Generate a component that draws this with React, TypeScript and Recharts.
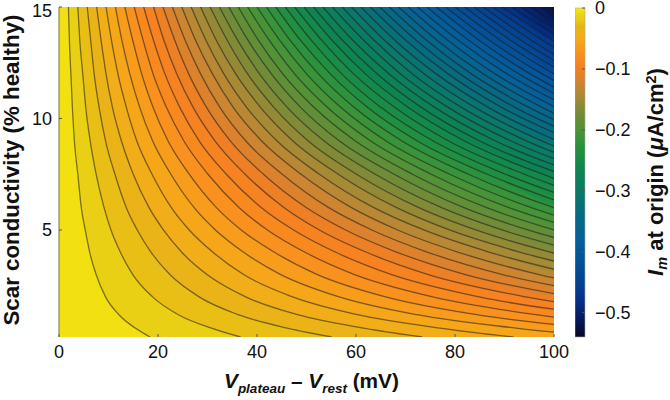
import React from 'react';
import { Area, Bar, BarChart, ComposedChart, Label, Line, XAxis, YAxis } from 'recharts';

const FONT = '"Liberation Sans", Arial, sans-serif';

// scar conductivity (% healthy) at which each contour below was read
const sigmaGrid = [15, 13.5, 12, 10.5, 9, 7.5, 6, 5, 4, 3, 2, 1.2, 0.6, 0.2];

// V (mV) of the contours, one row per 0.01 uA/cm2 step, read along sigmaGrid
const contourV = [
  [1.9, 2.1, 2.4, 2.7, 3.1, 3.8, 4.5, 5.3, 6.2, 7.5, 9.4, 12.1, 15.4, 18.4],
  [3.8, 4.2, 4.8, 5.4, 6.3, 7.5, 9.1, 10.5, 12.4, 14.9, 18.9, 24.1, 30.8, 36.7],
  [5.7, 6.4, 7.1, 8.1, 9.4, 11.3, 13.6, 15.8, 18.6, 22.4, 28.3, 36.2, 46.1, 55.1],
  [7.6, 8.5, 9.5, 10.8, 12.6, 15.0, 18.2, 21.1, 24.8, 29.9, 37.7, 48.2, 61.5, 73.4],
  [9.5, 10.6, 11.9, 13.6, 15.7, 18.8, 22.7, 26.3, 31.1, 37.3, 47.2, 60.3, 76.9, 91.8],
  [11.4, 12.7, 14.3, 16.3, 18.9, 22.6, 27.3, 31.6, 37.3, 44.8, 56.6, 72.3, 92.3, 110.1],
  [13.3, 14.9, 16.7, 19.0, 22.0, 26.3, 31.8, 36.8, 43.5, 52.2, 66.0, 84.4, 107.7],
  [15.2, 17.0, 19.0, 21.7, 25.2, 30.1, 36.4, 42.1, 49.7, 59.7, 75.5, 96.4, 123.0],
  [17.1, 19.1, 21.4, 24.4, 28.3, 33.8, 40.9, 47.4, 55.9, 67.2, 84.9, 108.5],
  [19.1, 21.2, 23.8, 27.1, 31.5, 37.6, 45.5, 52.6, 62.1, 74.6, 94.3, 120.5],
  [21.0, 23.4, 26.2, 29.8, 34.6, 41.3, 50.0, 57.9, 68.3, 82.1, 103.8],
  [22.9, 25.5, 28.6, 32.5, 37.7, 45.1, 54.5, 63.2, 74.5, 89.6, 113.2],
  [24.8, 27.6, 31.0, 35.2, 40.9, 48.9, 59.1, 68.4, 80.7, 97.0, 122.6],
  [26.7, 29.7, 33.3, 37.9, 44.0, 52.6, 63.6, 73.7, 87.0, 104.5],
  [28.6, 31.8, 35.7, 40.7, 47.2, 56.4, 68.2, 78.9, 93.2, 111.9],
  [30.5, 34.0, 38.1, 43.4, 50.3, 60.1, 72.7, 84.2, 99.4, 119.4],
  [32.4, 36.1, 40.5, 46.1, 53.5, 63.9, 77.3, 89.5, 105.6],
  [34.3, 38.2, 42.9, 48.8, 56.6, 67.7, 81.8, 94.7, 111.8],
  [36.2, 40.3, 45.2, 51.5, 59.8, 71.4, 86.4, 100.0, 118.0],
  [38.1, 42.5, 47.6, 54.2, 62.9, 75.2, 90.9, 105.3],
  [40.0, 44.6, 50.0, 56.9, 66.0, 78.9, 95.4, 110.5],
  [41.9, 46.7, 52.4, 59.6, 69.2, 82.7, 100.0, 115.8],
  [43.8, 48.8, 54.8, 62.3, 72.3, 86.5, 104.5],
  [45.7, 51.0, 57.1, 65.0, 75.5, 90.2, 109.1],
  [47.6, 53.1, 59.5, 67.8, 78.6, 94.0, 113.6],
  [49.5, 55.2, 61.9, 70.5, 81.8, 97.7, 118.2],
  [51.4, 57.3, 64.3, 73.2, 84.9, 101.5],
  [53.3, 59.4, 66.7, 75.9, 88.1, 105.3],
  [55.2, 61.6, 69.0, 78.6, 91.2, 109.0],
  [57.2, 63.7, 71.4, 81.3, 94.4, 112.8],
  [59.1, 65.8, 73.8, 84.0, 97.5, 116.5],
  [61.0, 67.9, 76.2, 86.7, 100.6],
  [62.9, 70.1, 78.6, 89.4, 103.8],
  [64.8, 72.2, 81.0, 92.1, 106.9],
  [66.7, 74.3, 83.3, 94.9, 110.1],
  [68.6, 76.4, 85.7, 97.6, 113.2],
  [70.5, 78.6, 88.1, 100.3],
  [72.4, 80.7, 90.5, 103.0],
  [74.3, 82.8, 92.9, 105.7],
  [76.2, 84.9, 95.2, 108.4],
  [78.1, 87.0, 97.6, 111.1],
  [80.0, 89.2, 100.0, 113.8],
  [81.9, 91.3, 102.4],
  [83.8, 93.4, 104.8],
  [85.7, 95.5, 107.1],
  [87.6, 97.7, 109.5],
  [89.5, 99.8, 111.9],
  [91.4, 101.9],
  [93.3, 104.0],
  [95.3, 106.2],
  [97.2, 108.3],
  [99.1, 110.4],
];

const xTicks = [0, 20, 40, 60, 80, 100];
const yTicks = [5, 10, 15];
const barTicks = [0, -0.1, -0.2, -0.3, -0.4, -0.5];

// colormap, value -> colour
const mapValues = [0, -0.01, -0.02, -0.03, -0.05, -0.08, -0.1, -0.12, -0.14, -0.16, -0.18, -0.2, -0.23, -0.26, -0.3, -0.34, -0.38, -0.42, -0.46, -0.48, -0.51, -0.54];
const mapColors = ['#fde812', '#e6d814', '#ecc814', '#e6b518', '#f5ab18', '#f88c1e', '#f57f22', '#d5832f', '#b08a35', '#8a8a36', '#678d38', '#4c9435', '#25913f', '#0f874e', '#0a7a66', '#066a82', '#05609a', '#044f98', '#043e8e', '#03308a', '#051a5c', '#060828'];

function hexRgb(hex: string) {
  return [1, 3, 5].map((i) => parseInt(hex.slice(i, i + 2), 16));
}

function colorAt(value: number) {
  let i = 0;
  while (i < mapValues.length - 2 && value < mapValues[i + 1]) i++;
  const t = (mapValues[i] - value) / (mapValues[i] - mapValues[i + 1]);
  const a = hexRgb(mapColors[i]);
  const b = hexRgb(mapColors[i + 1]);
  return `rgb(${a.map((c, n) => Math.round(c + (b[n] - c) * t)).join(',')})`;
}

const contours = contourV.map((row) => row.map((v, i) => ({ v, s: sigmaGrid[i] })));
const barData = [{ name: 'Im', value: -0.54 }];

const tickStyle = { fontFamily: FONT, fontSize: 18, fill: '#111' };
const titleStyle = { fontFamily: FONT, fontSize: 20.8, fontWeight: 700, fill: '#111' };

const XTitle = () => (
  <text x={224} y={388} style={titleStyle}>
    <tspan fontStyle="italic">V</tspan>
    <tspan fontStyle="italic" fontSize={13.5} dy={5}>plateau</tspan>
    <tspan dy={-5}> – </tspan>
    <tspan fontStyle="italic">V</tspan>
    <tspan fontStyle="italic" fontSize={13.5} dy={5}>rest</tspan>
    <tspan dy={-5}> (mV)</tspan>
  </text>
);

const YTitle = () => (
  <text transform="translate(19,170) rotate(-90)" textAnchor="middle" style={{ ...titleStyle, fontSize: 22.3 }}>
    Scar conductivity (% healthy)
  </text>
);

const BarTitle = () => (
  <text transform="translate(88,172) rotate(-90)" textAnchor="middle" style={{ ...titleStyle, fontSize: 22 }}>
    <tspan fontStyle="italic">I</tspan>
    <tspan fontStyle="italic" fontSize={14.5} dy={4}>m</tspan>
    <tspan dy={-4}> at origin (</tspan>
    <tspan fontStyle="italic">μ</tspan>
    <tspan>A/cm</tspan>
    <tspan fontSize={14.5} dy={-7}>2</tspan>
    <tspan dy={7}>)</tspan>
  </text>
);

export default function App() {
  return (
    <div style={{ position: 'absolute', left: 0, top: 0, width: 670, height: 400, background: '#fff' }}>
      <ComposedChart width={670} height={400} margin={{ top: 7, right: 116, bottom: 0, left: 0 }} style={{ position: 'absolute', left: 0, top: 0 }}>
        <XAxis
          type="number"
          dataKey="v"
          domain={[0, 100]}
          ticks={xTicks}
          allowDataOverflow
          height={63}
          axisLine={false}
          tickLine={{ stroke: '#555' }}
          tickSize={-3}
          tickMargin={11}
          tick={tickStyle}
        >
          <Label content={<XTitle />} />
        </XAxis>
        <YAxis
          type="number"
          dataKey="s"
          domain={[0.2, 15]}
          ticks={yTicks}
          allowDataOverflow
          width={59}
          axisLine={{ stroke: '#76763a' }}
          tickLine={{ stroke: '#555' }}
          tickSize={-3}
          tickMargin={10}
          tick={tickStyle}
        >
          <Label content={<YTitle />} />
        </YAxis>
        <Area
          data={[{ v: 0, s: 0.2 }, { v: 100, s: 0.2 }]}
          dataKey="s"
          baseValue={15}
          type="linear"
          stroke="none"
          fill={colorAt(-0.005)}
          fillOpacity={1}
          isAnimationActive={false}
          dot={false}
          activeDot={false}
          name="band-0"
        />
        {contours.map((pts, k) => (
          <Area
            key={`band-${k + 1}`}
            name={`band-${k + 1}`}
            data={[...pts, { v: 130, s: pts[pts.length - 1].s }]}
            dataKey="s"
            baseValue={15}
            type="monotone"
            stroke="none"
            fill={colorAt(-(k + 1.5) * 0.01)}
            fillOpacity={1}
            isAnimationActive={false}
            dot={false}
            activeDot={false}
          />
        ))}
        {contours.map((pts, k) => (
          <Line
            key={`contour-${k + 1}`}
            name={`contour-${k + 1}`}
            data={pts}
            dataKey="s"
            type="monotone"
            stroke="#1c1c1c"
            strokeOpacity={0.55}
            strokeWidth={1.3}
            isAnimationActive={false}
            dot={false}
            activeDot={false}
          />
        ))}
      </ComposedChart>
      <BarChart
        width={95}
        height={400}
        data={barData}
        margin={{ top: 8, right: 0, bottom: 63, left: 0 }}
        barCategoryGap={0}
        style={{ position: 'absolute', left: 575, top: 0 }}
      >
        <defs>
          <linearGradient id="im-scale" x1="0" y1="0" x2="0" y2="1">
            {mapValues.map((m, i) => (
              <stop key={m} offset={`${(m / -0.54) * 100}%`} stopColor={mapColors[i]} />
            ))}
          </linearGradient>
        </defs>
        <XAxis dataKey="name" hide />
        <YAxis
          orientation="right"
          domain={[-0.54, 0]}
          ticks={barTicks}
          interval={0}
          width={85}
          axisLine={false}
          tickLine={{ stroke: '#555' }}
          tickSize={-3}
          tickMargin={13}
          tick={tickStyle}
          tickFormatter={(t: number) => (t === 0 ? '0' : `−${Math.abs(t).toFixed(1)}`)}
        >
          <Label content={<BarTitle />} />
        </YAxis>
        <Bar dataKey="value" fill="url(#im-scale)" stroke="#a9ab9a" strokeWidth={0.6} isAnimationActive={false} />
      </BarChart>
    </div>
  );
}
